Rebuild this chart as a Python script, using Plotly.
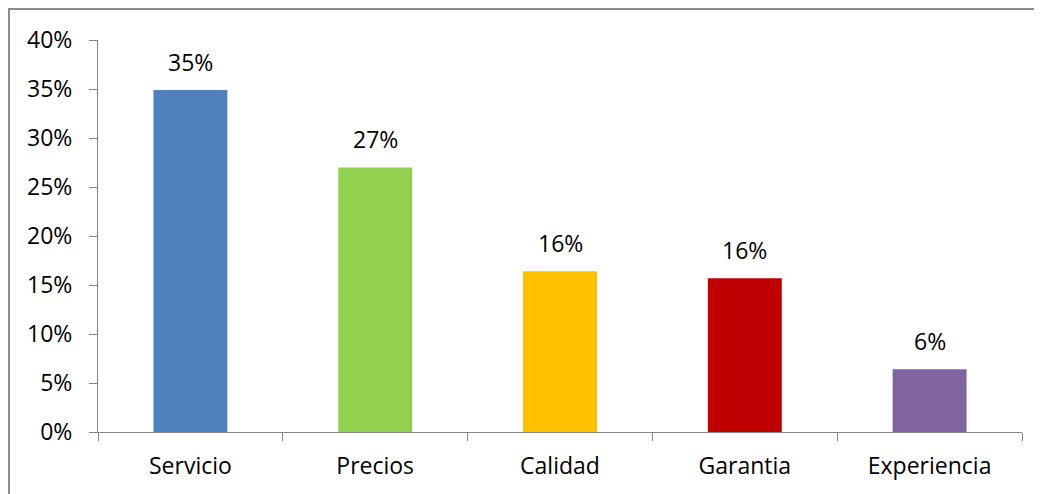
import plotly.graph_objects as go

categories = ["Servicio", "Precios", "Calidad", "Garantia", "Experiencia"]
values = [0.349, 0.270, 0.164, 0.157, 0.064]
colors = ["#4F81BD", "#92D050", "#FFC000", "#C00000", "#8064A2"]

FONT = "Open Sans, Lato, sans-serif"
FS = 23

fig = go.Figure()
fig.add_trace(go.Bar(
    x=categories, y=values, marker=dict(color=colors, line=dict(width=0)),
    width=0.4, showlegend=False,
))

for c, v in zip(categories, values):
    fig.add_annotation(x=c, y=v, text=f"{round(v*100):d}%", showarrow=False,
                       yanchor="bottom", yshift=10,
                       font=dict(family=FONT, size=FS, color="#000000"))

axis_col = "#868686"
fig.update_layout(
    width=1034, height=486,
    margin=dict(l=90, r=20, t=32, b=62),
    paper_bgcolor="white", plot_bgcolor="white",
    font=dict(family=FONT, size=FS, color="#000000"),
    bargap=0.6,
    xaxis=dict(
        showline=True, linecolor=axis_col, linewidth=1,
        ticks="outside", ticklen=8, tickcolor=axis_col,
        tickson="boundaries", showgrid=False,
        ticklabelstandoff=13,
        tickfont=dict(family=FONT, size=FS, color="#000000"),
    ),
    yaxis=dict(
        range=[0, 0.40], dtick=0.05, tickformat=".0%",
        showline=True, linecolor=axis_col, linewidth=1,
        ticks="outside", ticklen=8, tickcolor=axis_col,
        showgrid=False, zeroline=False,
        ticklabelstandoff=12,
        tickfont=dict(family=FONT, size=FS, color="#000000"),
    ),
    shapes=[dict(type="rect", xref="paper", yref="paper",
                 x0=-0.0963, y0=-0.3, x1=1.3, y1=1.0791,
                 line=dict(color="#8C8C8C", width=2), layer="below")],
)

fig.write_html("out.html")
